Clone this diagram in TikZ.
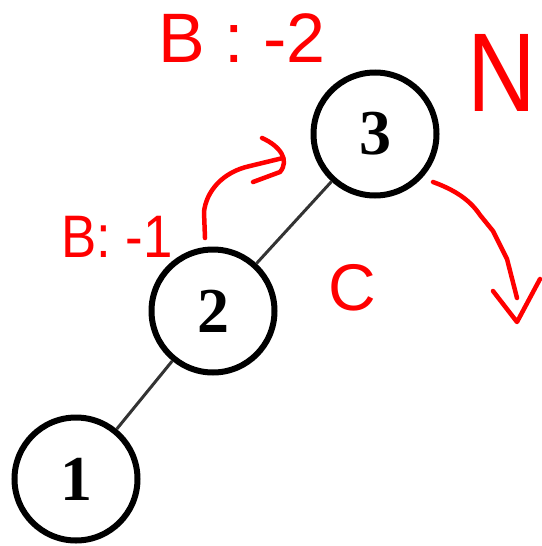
\documentclass[tikz,border=0pt]{standalone}
\usepackage{fontspec}
\setmainfont{Liberation Serif}
\newfontfamily\handfont{Liberation Sans}
\begin{document}
\begin{tikzpicture}[x=1pt,y=-1pt,
  treenode/.style={circle,draw=black,line width=6pt,minimum size=123pt,inner sep=0pt,
    font=\fontsize{64}{64}\selectfont\bfseries},
  edgeline/.style={draw=black!80,line width=3pt},
  scribble/.style={draw=red,line width=4.5pt,line cap=round,line join=round},
  scribtext/.style={text=red,inner sep=0pt,anchor=center}]
\useasboundingbox (0,0) rectangle (541,546);
\node[treenode] (n3) at (375,134) {3};
\node[treenode] (n2) at (213,311) {2};
\node[treenode] (n1) at (76,479) {1};
\draw[edgeline] (n3) -- (n2);
\draw[edgeline] (n2) -- (n1);
% annotations
\node[scribtext,font=\handfont\fontsize{70}{70}\selectfont] (b2) at (242,38) {B : -2};
\node[scribtext,font=\handfont\fontsize{112}{112}\selectfont,xscale=0.85] (nn) at (502,73) {N};
\node[scribtext,font=\handfont\fontsize{60}{60}\selectfont,xscale=0.88] (b1) at (117,237) {B: -1};
\node[scribtext,font=\handfont\fontsize{66}{66}\selectfont] (cc) at (352,288) {C};
% curved arrow from 2 toward 3
\coordinate (a1s) at (205,238);
\coordinate (a1e) at (283,158);
\draw[scribble] (a1s) -- (204,212) .. controls (206,192) and (222,172) .. (250,166) -- (a1e);
\draw[scribble] (262,138) .. controls (280,146) and (290,160) .. (280,172) -- (253,182);
% arrow from 3 downwards
\coordinate (a2s) at (433,182);
\coordinate (a2e) at (517,298);
\draw[scribble] (a2s) .. controls (455,190) and (470,200) .. (480,215) -- (493,231) -- (507,259) -- (a2e);
\draw[scribble] (493,291) -- (517,322) -- (540,279);
\end{tikzpicture}
\end{document}
